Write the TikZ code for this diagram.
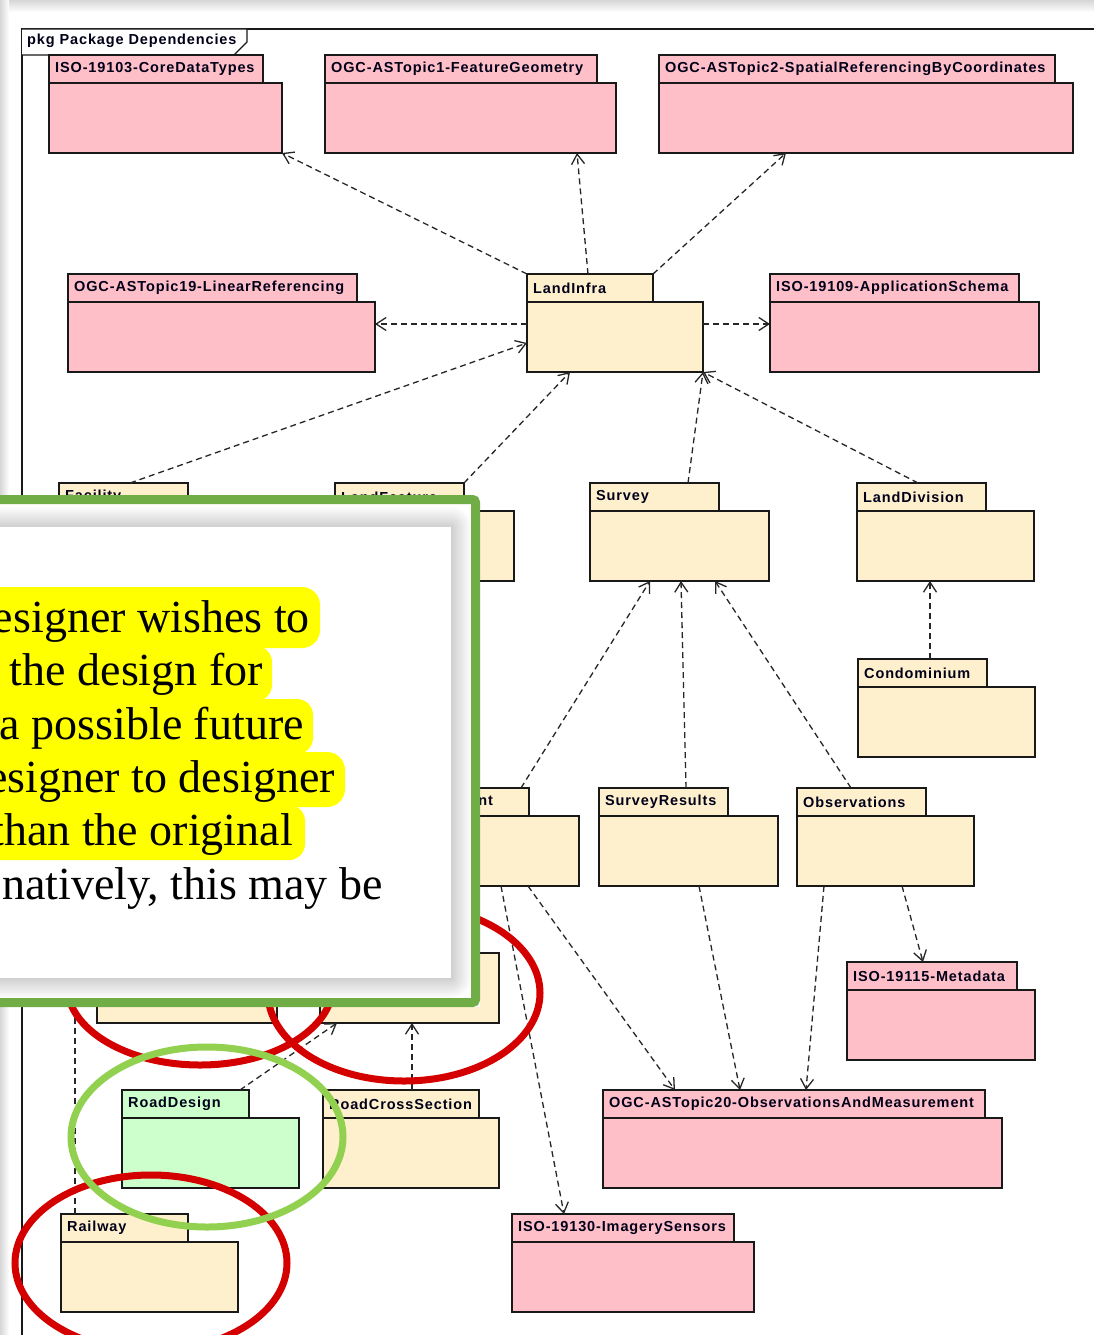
\documentclass[tikz,border=0pt]{standalone}
\usepackage{fontspec}
\setmainfont{Liberation Serif}
\newfontfamily\lblfont{Liberation Sans}[LetterSpace=6]
\newfontfamily\popfont{Liberation Serif}
\usetikzlibrary{arrows.meta,calc}
\definecolor{pinkpk}{HTML}{FFBFC9}
\definecolor{creampk}{HTML}{FFF0CD}
\definecolor{greenpk}{HTML}{CCFFCC}
\definecolor{popgreen}{HTML}{70AD47}
\definecolor{ringred}{HTML}{D40000}
\definecolor{ringgreen}{HTML}{92D050}
\definecolor{hiyellow}{HTML}{FFFF00}
\tikzset{
  pkgtab/.style={draw=black!90, line width=1.6pt, anchor=north west, inner sep=0pt, outer sep=0pt, minimum height=28pt},
  pkgbody/.style={draw=black!90, line width=1.6pt, anchor=north west, inner sep=0pt, outer sep=0pt, minimum height=70pt},
  pkglbl/.style={anchor=west, inner sep=0pt, text=black!90!blue, font=\lblfont\bfseries\fontsize{14.5pt}{17pt}\selectfont},
  dep/.style={draw=black!85, line width=1.3pt, dash pattern=on 6pt off 4pt, -{Straight Barb[length=10pt,width=13pt,line width=1.3pt]}},
  poptext/.style={anchor=base east, inner sep=0pt, text=black, font=\popfont\fontsize{46pt}{53pt}\selectfont},
  ring/.style={line width=7pt}
}
\newcommand{\pkgbox}[7]{%
  \node[pkgtab, fill=#6, minimum width=#4pt] (#1tab) at (#2,#3) {};
  \node[pkglbl] (#1lbl) at ([xshift=6pt]#1tab.west) {#7};
  \node[pkgbody, fill=#6, minimum width=#5pt] (#1) at (#2,#3+28) {};
}
\newcommand{\pkgplain}[6]{%
  \node[pkgtab, fill=#6, minimum width=#4pt] (#1tab) at (#2,#3) {};
  \node[pkgbody, fill=#6, minimum width=#5pt] (#1) at (#2,#3+28) {};
}
\begin{document}
\begin{tikzpicture}[x=1pt,y=-1pt]
\useasboundingbox (0,0) rectangle (1094,1335);
\clip (0,0) rectangle (1094,1335);
% page
\fill[white] (0,0) rectangle (1094,1335);
\shade[top color=black!16, bottom color=white] (0,0) rectangle (1094,12);
\shade[left color=black!16, right color=white] (0,0) rectangle (9,1335);
% frame
\draw[black!90, line width=1.5pt] (22,1345) -- (22,29) -- (1100,29);
\draw[black!90, line width=1.2pt, fill=white] (22,29) -- (247,29) -- (247,42) -- (234,55) -- (22,55);
\node[pkglbl] (frametitle) at (27,41) {pkg Package Dependencies};
% packages
\pkgbox{cdt}{49}{55}{214}{233}{pinkpk}{ISO-19103-CoreDataTypes}
\pkgbox{fg}{325}{55}{272}{291}{pinkpk}{OGC-ASTopic1-FeatureGeometry}
\pkgbox{src}{659}{55}{396}{414}{pinkpk}{OGC-ASTopic2-SpatialReferencingByCoordinates}
\pkgbox{lr}{68}{274}{289}{307}{pinkpk}{OGC-ASTopic19-LinearReferencing}
\pkgbox{li}{527}{274}{126}{176}{creampk}{LandInfra}
\pkgbox{as}{770}{274}{249}{269}{pinkpk}{ISO-19109-ApplicationSchema}
\pkgbox{fac}{59}{483}{129}{180}{creampk}{Facility}
\pkgbox{lf}{335}{483}{129}{179}{creampk}{LandFeature}
\pkgbox{sur}{590}{483}{129}{179}{creampk}{Survey}
\pkgbox{ld}{857}{483}{129}{177}{creampk}{LandDivision}
\pkgbox{co}{858}{659}{129}{177}{creampk}{Condominium}
\pkgbox{al}{409}{788}{120}{170}{creampk}{Alignment}
\pkgbox{sr}{599}{788}{129}{179}{creampk}{SurveyResults}
\pkgbox{obs}{797}{788}{129}{177}{creampk}{Observations}
\pkgbox{md}{847}{962}{170}{188}{pinkpk}{ISO-19115-Metadata}
\pkgplain{rb}{97}{925}{129}{180}{creampk}
\pkgplain{road}{320}{925}{129}{179}{creampk}
\pkgbox{rd}{122}{1090}{127}{177}{greenpk}{RoadDesign}
\pkgbox{rcs}{323}{1090}{156}{176}{creampk}{RoadCrossSection}
\pkgbox{om}{603}{1090}{382}{399}{pinkpk}{OGC-ASTopic20-ObservationsAndMeasurement}
\pkgbox{rw}{61}{1214}{127}{177}{creampk}{Railway}
\pkgbox{is}{512}{1214}{222}{242}{pinkpk}{ISO-19130-ImagerySensors}
% dependencies
\draw[dep] (litab.north west) -- (cdt.south east);
\draw[dep] ([xshift=61pt]litab.north west) -- ([xshift=252pt]fg.south west);
\draw[dep] (litab.north east) -- ([xshift=127pt]src.south west);
\draw[dep] ([yshift=13pt]li.west) -- ([yshift=13pt]lr.east);
\draw[dep] ([yshift=13pt]li.east) -- ([yshift=13pt]as.west);
\draw[dep] ([xshift=71pt]factab.north west) -- ([yshift=-6pt]li.west);
\draw[dep] (lftab.north east) -- ([xshift=43pt]li.south west);
\draw[dep] ([xshift=98pt]surtab.north west) -- (li.south east);
\draw[dep] ([xshift=61pt]ldtab.north west) -- (li.south east);
\draw[dep] ([xshift=72pt]cotab.north west) -- ([xshift=73pt]ld.south west);
\draw[dep] ([xshift=112pt]altab.north west) -- ([xshift=60pt]sur.south west);
\draw[dep] ([xshift=87pt]srtab.north west) -- ([xshift=91pt]sur.south west);
\draw[dep] ([xshift=54pt]obstab.north west) -- ([xshift=125pt]sur.south west);
\draw[dep] ([xshift=92pt]al.south west) -- ([xshift=52pt]istab.north west);
\draw[dep] ([xshift=119pt]al.south west) -- ([xshift=72pt]omtab.north west);
\draw[dep] ([xshift=100pt]sr.south west) -- ([xshift=137pt]omtab.north west);
\draw[dep] ([xshift=27pt]obs.south west) -- ([xshift=203pt]omtab.north west);
\draw[dep] ([xshift=105pt]obs.south west) -- ([xshift=76pt]mdtab.north west);
\draw[dep] ([xshift=118pt]rdtab.north west) -- ([xshift=17pt]road.south west);
\draw[dep] ([xshift=89pt]rcstab.north west) -- ([xshift=92pt]road.south west);
\draw[dep] ([xshift=14pt]rwtab.north west) -- ([xshift=16pt]fac.south west);
% rings
\draw[ring, ringred] (200,985) ellipse [x radius=133pt, y radius=80pt];
\draw[ring, ringred] (404,993) ellipse [x radius=136pt, y radius=88pt];
\draw[ring, ringred] (151,1263) ellipse [x radius=136pt, y radius=88pt];
\draw[ring, ringgreen] (207,1137) ellipse [x radius=136pt, y radius=90pt];
% popup
\fill[white] (-80,495) rectangle (480,1007);
\foreach \i in {20,...,1}{
  \pgfmathsetmacro\g{0.9*(21-\i)}
  \fill[black!\g, rounded corners=\i pt] (-80-\i,527-\i) rectangle (451+\i,978+\i);
}
\fill[white] (-80,527) rectangle (451,978);
\fill[hiyellow, rounded corners=18pt] (-60,587) rectangle (320,648);
\fill[hiyellow, rounded corners=16pt] (-60,646) rectangle (272,701);
\fill[hiyellow, rounded corners=16pt] (-60,699) rectangle (313,754);
\fill[hiyellow, rounded corners=18pt] (-60,752) rectangle (345,807);
\fill[hiyellow, rounded corners=16pt] (-60,805) rectangle (305,860);
\node[poptext] (t1) at (310,632) {esigner wishes to};
\node[poptext] (t2) at (263,685) {the design for};
\node[poptext] (t3) at (304,739) {a possible future};
\node[poptext] (t4) at (335,792) {esigner to designer};
\node[poptext] (t5) at (293,845) {than the original};
\node[poptext] (t6) at (383,899) {natively, this may be};
\draw[popgreen, line width=9pt, rounded corners=3pt] (-80,499.5) rectangle (475.5,1002.5);
\end{tikzpicture}
\end{document}
